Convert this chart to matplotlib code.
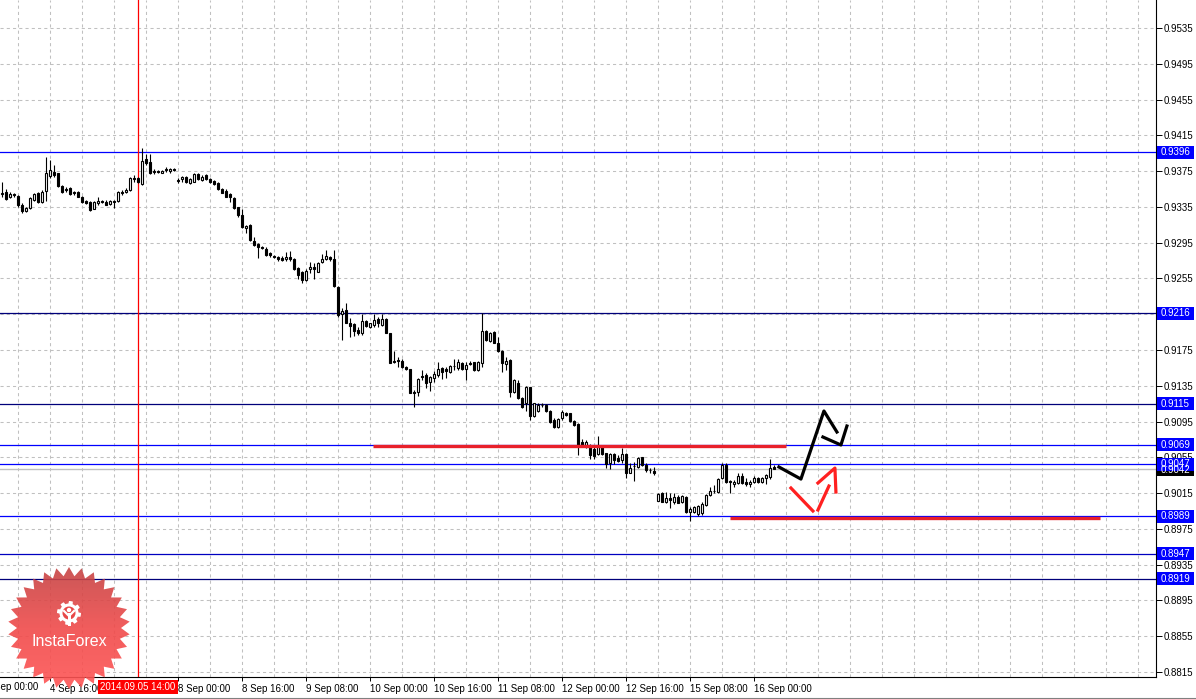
import numpy as np
import matplotlib
matplotlib.use("Agg")
import matplotlib.pyplot as plt
from matplotlib import transforms
from matplotlib.patches import Rectangle, Polygon, Circle
from matplotlib.colors import LinearSegmentedColormap

plt.rcParams["font.family"] = ["Liberation Sans", "DejaVu Sans"]

# H1 candles, 4 Sep 04:00 .. 16 Sep 05:00 (prices in pips, /10000 below)
opens = [9349.4, 9351.3, 9345.7, 9349.1, 9347.2, 9337.1, 9330.0, 9333.4, 9342.7, 9350.2,
         9340.8, 9353.1, 9369.9, 9374.4, 9372.5, 9358.4, 9355.0, 9356.5, 9351.3, 9351.7,
         9346.4, 9341.6, 9340.8, 9332.7, 9339.0, 9341.2, 9340.8, 9338.2, 9341.2, 9342.0,
         9351.7, 9351.7, 9353.9, 9367.3, 9366.9, 9360.6, 9388.6, 9384.8, 9374.8, 9374.8,
         9373.3, 9377.4, 9375.5, 9377.0, 9364.7, 9365.8, 9368.1, 9361.3, 9363.2, 9371.4,
         9365.1, 9370.7, 9365.8, 9364.3, 9362.1, 9355.0, 9353.1, 9349.1, 9345.3, 9334.5,
         9325.9, 9311.0, 9314.8, 9296.9, 9293.1, 9290.2, 9288.3, 9283.1, 9279.7, 9278.6,
         9278.2, 9276.4, 9279.4, 9276.4, 9266.3, 9262.6, 9253.3, 9265.2, 9268.2, 9262.6,
         9273.0, 9276.7, 9279.4, 9276.7, 9245.8, 9215.3, 9219.7, 9205.6, 9204.1, 9197.4,
         9194.4, 9207.8, 9200.4, 9202.6, 9209.3, 9203.0, 9209.3, 9194.4, 9163.1, 9163.5,
         9163.1, 9156.4, 9153.8, 9127.7, 9128.4, 9145.6, 9147.1, 9138.9, 9144.1, 9147.1,
         9154.5, 9153.4, 9150.8, 9157.5, 9154.5, 9160.9, 9153.4, 9160.5, 9161.2, 9152.7,
         9160.1, 9196.6, 9185.4, 9195.5, 9183.2, 9173.9, 9159.4, 9163.8, 9128.4, 9138.5,
         9121.0, 9115.4, 9133.3, 9101.2, 9107.2, 9113.9, 9113.5, 9107.2, 9096.7, 9089.3,
         9098.6, 9104.9, 9104.2, 9095.6, 9092.3, 9072.5, 9066.9, 9067.7, 9064.3, 9058.4,
         9066.9, 9059.5, 9048.3, 9058.4, 9053.9, 9052.0, 9058.4, 9037.9, 9045.7, 9044.6,
         9055.0, 9046.4, 9041.2, 9040.1, 9006.5, 9015.4, 9005.4, 9009.8, 9005.4, 9011.0,
         9004.6, 9011.0, 8994.2, 8994.2, 8991.6, 8992.3, 9001.6, 9012.8, 9016.9, 9016.5,
         9031.5, 9046.4, 9028.1, 9025.1, 9025.9, 9034.1, 9027.7, 9024.8, 9027.7, 9031.5,
         9027.7, 9031.5, 9033.3, 9044.1]
highs = [9363.2, 9355.0, 9352.0, 9350.9, 9347.9, 9339.0, 9334.5, 9345.7, 9350.2, 9352.0,
         9353.9, 9391.2, 9387.4, 9381.8, 9373.3, 9359.1, 9357.6, 9357.6, 9352.8, 9352.8,
         9347.2, 9342.7, 9342.0, 9341.6, 9345.7, 9342.7, 9342.7, 9342.7, 9342.7, 9353.1,
         9353.9, 9355.8, 9368.1, 9370.7, 9368.1, 9400.5, 9394.1, 9394.1, 9377.0, 9376.3,
         9376.3, 9379.2, 9378.5, 9378.1, 9366.9, 9369.5, 9369.5, 9366.9, 9373.3, 9372.5,
         9370.7, 9371.8, 9366.9, 9365.1, 9363.2, 9355.8, 9354.6, 9350.2, 9345.7, 9335.3,
         9332.3, 9314.8, 9315.9, 9301.7, 9294.3, 9291.3, 9289.8, 9284.6, 9281.2, 9280.1,
         9280.1, 9284.9, 9286.1, 9277.5, 9267.4, 9263.7, 9265.2, 9273.8, 9272.6, 9273.8,
         9282.3, 9286.8, 9280.1, 9286.8, 9246.9, 9221.6, 9227.2, 9210.4, 9204.8, 9201.1,
         9215.3, 9208.6, 9205.6, 9215.3, 9212.3, 9215.3, 9210.4, 9194.4, 9173.9, 9167.6,
         9164.6, 9157.1, 9153.8, 9130.3, 9143.3, 9152.7, 9148.9, 9145.9, 9151.9, 9162.0,
         9155.6, 9156.4, 9158.2, 9164.6, 9164.6, 9162.0, 9162.0, 9163.1, 9162.0, 9163.1,
         9216.0, 9197.4, 9195.5, 9196.3, 9189.9, 9175.0, 9167.6, 9164.6, 9142.2, 9141.5,
         9122.8, 9134.8, 9134.0, 9116.1, 9116.1, 9115.4, 9114.3, 9107.9, 9098.6, 9098.6,
         9107.9, 9106.1, 9104.9, 9096.7, 9093.0, 9075.1, 9074.4, 9069.9, 9066.2, 9078.9,
         9067.7, 9060.2, 9059.5, 9059.5, 9057.6, 9065.1, 9059.5, 9048.3, 9050.2, 9055.0,
         9055.7, 9048.3, 9042.7, 9044.6, 9014.7, 9016.5, 9016.5, 9014.7, 9015.4, 9012.8,
         9012.8, 9011.7, 8999.0, 9000.5, 9001.6, 9005.4, 9013.9, 9022.1, 9024.0, 9031.5,
         9048.2, 9048.2, 9029.6, 9029.6, 9037.8, 9037.8, 9031.5, 9029.6, 9034.1, 9033.3,
         9033.3, 9036.3, 9052.7, 9046.4]
lows = [9346.4, 9342.7, 9344.6, 9345.7, 9335.3, 9328.6, 9329.3, 9332.7, 9341.6, 9339.0,
        9339.0, 9341.6, 9366.9, 9368.8, 9357.6, 9350.9, 9352.0, 9348.3, 9348.3, 9345.7,
        9339.7, 9338.2, 9330.8, 9332.3, 9337.1, 9339.0, 9336.8, 9337.1, 9334.1, 9340.8,
        9348.3, 9350.2, 9353.1, 9363.2, 9361.3, 9359.5, 9381.8, 9371.4, 9372.2, 9372.5,
        9372.5, 9374.4, 9372.5, 9375.1, 9361.3, 9363.2, 9362.1, 9360.6, 9362.5, 9365.1,
        9364.3, 9365.1, 9361.3, 9359.5, 9353.9, 9350.2, 9345.7, 9340.8, 9332.7, 9323.3,
        9311.0, 9305.4, 9297.2, 9291.3, 9278.2, 9287.6, 9280.1, 9279.4, 9277.5, 9274.9,
        9274.5, 9274.9, 9274.9, 9264.4, 9254.0, 9249.5, 9252.5, 9261.5, 9254.0, 9261.8,
        9271.9, 9275.6, 9274.9, 9245.8, 9212.3, 9186.2, 9204.8, 9189.9, 9190.7, 9191.8,
        9191.8, 9200.4, 9199.2, 9201.1, 9201.1, 9201.9, 9193.6, 9160.9, 9160.9, 9155.6,
        9154.5, 9152.7, 9126.6, 9111.7, 9123.6, 9141.5, 9132.2, 9129.5, 9139.6, 9145.2,
        9142.2, 9143.3, 9148.9, 9152.7, 9152.7, 9152.7, 9141.5, 9158.2, 9151.9, 9151.9,
        9155.6, 9185.4, 9184.3, 9182.5, 9173.2, 9150.8, 9152.7, 9122.8, 9126.6, 9119.9,
        9109.8, 9107.2, 9096.7, 9099.7, 9106.1, 9111.7, 9106.1, 9093.0, 9087.4, 9087.4,
        9096.7, 9101.2, 9094.9, 9090.0, 9057.6, 9066.9, 9065.1, 9052.8, 9052.8, 9057.6,
        9057.6, 9042.7, 9041.6, 9047.5, 9050.2, 9048.3, 9031.5, 9037.1, 9028.9, 9042.7,
        9045.3, 9039.0, 9037.9, 9035.3, 9005.7, 9004.6, 9004.3, 8997.9, 9002.8, 9003.5,
        9003.5, 8993.1, 8983.5, 8992.3, 8989.3, 8990.5, 9000.5, 9011.7, 9015.4, 9015.4,
        9030.3, 9026.6, 9015.4, 9022.1, 9025.1, 9025.1, 9022.9, 9022.1, 9026.6, 9026.6,
        9026.6, 9025.1, 9030.3, 9041.5]
closes = [9350.9, 9343.8, 9349.4, 9348.3, 9337.1, 9330.8, 9333.4, 9344.6, 9349.1, 9340.8,
          9352.0, 9372.5, 9376.3, 9370.7, 9358.4, 9352.0, 9354.3, 9349.4, 9350.5, 9346.4,
          9340.5, 9339.0, 9331.5, 9340.8, 9342.0, 9340.5, 9337.5, 9341.6, 9340.5, 9351.3,
          9350.9, 9353.9, 9366.9, 9366.6, 9362.5, 9386.7, 9383.7, 9372.5, 9374.0, 9374.0,
          9375.5, 9376.6, 9377.7, 9376.3, 9364.0, 9368.1, 9363.2, 9365.8, 9371.8, 9365.8,
          9368.8, 9365.8, 9363.2, 9360.6, 9355.0, 9350.9, 9346.4, 9345.7, 9333.4, 9325.9,
          9312.2, 9313.6, 9298.0, 9292.0, 9290.5, 9289.4, 9281.2, 9280.8, 9279.0, 9276.4,
          9275.6, 9278.6, 9276.4, 9265.2, 9258.9, 9253.3, 9263.7, 9268.2, 9265.2, 9271.9,
          9276.7, 9280.1, 9276.4, 9246.9, 9214.1, 9219.0, 9205.6, 9202.2, 9196.6, 9193.6,
          9207.8, 9201.8, 9204.8, 9208.6, 9204.8, 9209.3, 9194.4, 9160.9, 9162.0, 9162.7,
          9155.6, 9153.8, 9126.6, 9127.0, 9142.2, 9144.8, 9138.5, 9144.5, 9148.2, 9153.8,
          9150.8, 9151.9, 9157.1, 9156.7, 9162.0, 9153.4, 9158.2, 9159.7, 9152.7, 9162.0,
          9196.6, 9186.2, 9194.4, 9183.2, 9173.9, 9160.1, 9162.7, 9128.4, 9141.5, 9121.0,
          9110.9, 9133.3, 9101.2, 9115.4, 9113.5, 9113.2, 9107.2, 9094.9, 9088.5, 9097.5,
          9106.1, 9102.3, 9095.6, 9091.2, 9068.8, 9067.7, 9072.5, 9057.6, 9056.9, 9067.7,
          9058.7, 9047.5, 9058.4, 9052.0, 9051.3, 9058.4, 9037.1, 9042.7, 9044.9, 9053.9,
          9046.4, 9040.8, 9040.5, 9037.1, 9013.9, 9005.4, 9009.1, 9007.2, 9011.0, 9004.3,
          9011.7, 8994.2, 8996.8, 8999.8, 9000.5, 9002.8, 9012.8, 9017.3, 9017.7, 9030.3,
          9046.4, 9027.7, 9027.4, 9027.7, 9034.1, 9025.9, 9024.8, 9027.7, 9032.2, 9027.7,
          9031.5, 9035.2, 9042.6, 9042.0]

# time axis: bar index of each label
xtick_bars = [12, 44, 60, 76, 92, 108, 124, 140, 156, 172, 188]
xtick_labels = ["4 Sep 16:00", "8 Sep 00:00", "8 Sep 16:00", "9 Sep 08:00", "10 Sep 00:00",
                "10 Sep 16:00", "11 Sep 08:00", "12 Sep 00:00", "12 Sep 16:00",
                "15 Sep 08:00", "16 Sep 00:00"]
first_label_bar = -4
first_label = "4 Sep 00:00"
marker_bar = 34
marker_label = "2014.09.05 14:00"

ytick_vals = [0.8815, 0.8855, 0.8895, 0.8935, 0.8975, 0.9015, 0.9055, 0.9095, 0.9135,
              0.9175, 0.9215, 0.9255, 0.9295, 0.9335, 0.9375, 0.9415, 0.9455, 0.9495, 0.9535]
hidden_ticks = [0.9215]  # covered by the 0.9216 price box

levels = [0.9396, 0.9216, 0.9115, 0.9069, 0.9047, 0.8989, 0.8947, 0.8919]
level_colors = ["#0000ff", "#00007a", "#00007a", "#0000ff", "#0000ff", "#0000ff",
                "#0000c0", "#00007a"]
bid = 0.9042

# hand drawn marks
red_line_hi_x, red_line_hi_y = [92.75, 196.0], [0.90674, 0.90674]
red_line_lo_x, red_line_lo_y = [182.0, 274.5], [0.89875, 0.89875]
black_path_x = [194.25, 199.75, 205.5, 208.75]
black_path_y = [0.90442, 0.90307, 0.91068, 0.90833]
black_head_x = [205.25, 209.75, 211.25]
black_head_y = [0.90777, 0.90688, 0.90900]
red_strokes = [([197.25, 202.75], [0.90207, 0.89950]),
               ([204.0, 206.75], [0.89961, 0.90229]),
               ([204.0, 208.25, 208.5], [0.90263, 0.90430, 0.90162])]

o = np.array(opens) / 1e4
h = np.array(highs) / 1e4
l = np.array(lows) / 1e4
c = np.array(closes) / 1e4
idx = np.arange(len(o))

W, H = 1196, 699
fig = plt.figure(figsize=(W / 100, H / 100), dpi=100)
ax = fig.add_axes([0, 22 / H, 1155.5 / W, 677 / H])
ax.set_xlim(-0.5, 288.4)
ax.set_ylim(0.88094, 0.95663)

grid_kw = dict(color="#c0c0c0", lw=0.75, ls=(0, (3, 3)), zorder=0)
for gx in range(4, 289, 8):
    ax.axvline(gx, **grid_kw)
for gy in ytick_vals:
    ax.axhline(gy, **grid_kw)

ax.axhline(bid, color="#c0c0c0", lw=1.0, zorder=1)
for lv, lc in zip(levels, level_colors):
    ax.axhline(lv, color=lc, lw=0.9, zorder=1)
ax.axvline(marker_bar, color="#ff0000", lw=0.9, zorder=1)

# candles
ax.vlines(idx, l, h, color="black", lw=0.8, zorder=3)
up = c >= o
bot = np.minimum(o, c)
hgt = np.maximum(np.abs(c - o), 0.00004)
ax.bar(idx[up], hgt[up], bottom=bot[up], width=0.7, color="white",
       edgecolor="black", lw=0.8, zorder=4)
ax.bar(idx[~up], hgt[~up], bottom=bot[~up], width=0.7, color="black",
       edgecolor="black", lw=0.8, zorder=4)

# drawings
ax.plot(red_line_hi_x, red_line_hi_y, color="#e8202a", lw=2.4, solid_capstyle="butt", zorder=5)
ax.plot(red_line_lo_x, red_line_lo_y, color="#e8202a", lw=2.4, solid_capstyle="butt", zorder=5)
ax.plot(black_path_x, black_path_y, color="black", lw=2.3, zorder=6)
ax.plot(black_head_x, black_head_y, color="black", lw=2.3, zorder=6)
for sx, sy in red_strokes:
    ax.plot(sx, sy, color="#ff2020", lw=2.3, zorder=6)

# axes look
for s in ["left", "top"]:
    ax.spines[s].set_visible(False)
for s in ["right", "bottom"]:
    ax.spines[s].set_linewidth(0.8)
ax.yaxis.tick_right()
ax.set_yticks(ytick_vals)
ax.set_yticklabels(["" if v in hidden_ticks else "%.4f" % v for v in ytick_vals])
ax.tick_params(axis="y", length=4, width=0.7, pad=2, labelsize=7)
ax.set_xticks(xtick_bars)
ax.set_xticklabels(xtick_labels, ha="left")
ax.tick_params(axis="x", length=3, width=0.7, pad=2, labelsize=7)

bx = transforms.blended_transform_factory(ax.transData, ax.transAxes)
ax.text(first_label_bar, -0.0148, first_label, transform=bx, ha="left", va="center",
        fontsize=7, clip_on=False)
ax.text(marker_bar, -0.0148, marker_label, transform=bx, ha="center", va="center",
        fontsize=7, color="white", clip_on=False, zorder=10,
        bbox=dict(boxstyle="square,pad=0.2", fc="#ff0000", ec="none"))

# price labels on the right axis
by = transforms.blended_transform_factory(ax.transAxes, ax.transData)
px = 1.0 / 1155.5
box_h = 13 / 8944


def price_box(p, txt, fc):
    ax.add_patch(Rectangle((1 + 1.5 * px, p - box_h / 2), 37 * px, box_h, transform=by,
                           fc=fc, ec="none", clip_on=False, zorder=10))
    ax.text(1 + 20 * px, p, txt, transform=by, ha="center", va="center", fontsize=7,
            color="white", clip_on=False, zorder=11)


price_box(bid - 0.00008, "%.4f" % bid, "black")
for lv in levels:
    price_box(lv, "%.4f" % lv, "#0000ff")

# logo overlay
ov = fig.add_axes([0, 0, 1, 1], zorder=20)
ov.set_xlim(0, W)
ov.set_ylim(H, 0)
ov.axis("off")
ov.patch.set_alpha(0)
cx, cy, R, r_in, n = 69, 628, 61, 52, 30
ang = np.pi / 2 + np.arange(2 * n) * np.pi / n
rad = np.where(np.arange(2 * n) % 2 == 0, R, r_in)
star = Polygon(np.column_stack([cx + rad * np.cos(ang), cy - rad * np.sin(ang)]),
               closed=True, fc="none", ec="none")
ov.add_patch(star)
cmap = LinearSegmentedColormap.from_list("logo", ["#c64444", "#f04a4a", "#ff5555"])
img = ov.imshow(np.linspace(0, 1, 100)[:, None], extent=(cx - R, cx + R, cy + R, cy - R),
                cmap=cmap, aspect="auto", alpha=0.9, zorder=1)
img.set_clip_path(star)
ov.set_xlim(0, W)
ov.set_ylim(H, 0)

gx0, gy0 = 69, 613
ga = np.linspace(0, 2 * np.pi, 97)
gr = np.where((np.arange(97) // 6) % 2 == 0, 12, 9.5)
ov.add_patch(Polygon(np.column_stack([gx0 + gr * np.cos(ga), gy0 + gr * np.sin(ga)]),
                     fc="white", ec="none", zorder=3))
ov.add_patch(Circle((gx0, gy0), 6.5, fc="#e84848", ec="none", zorder=4))
ov.add_patch(Circle((gx0, gy0 - 3), 2.2, fc="white", ec="none", zorder=5))
ov.add_patch(Rectangle((gx0 - 1.5, gy0), 3, 13, fc="white", ec="none", zorder=5))
ov.plot([gx0 - 5, gx0, gx0 + 5], [gy0 - 2, gy0 + 3, gy0 - 2], color="white", lw=1.6, zorder=5)
ov.text(cx, 641, "InstaForex", ha="center", va="center", color="white", fontsize=11.5, zorder=6)

ov.plot([0, W], [697.5, 697.5], color="#808080", lw=0.8)

fig.savefig("out.png", dpi=100)
